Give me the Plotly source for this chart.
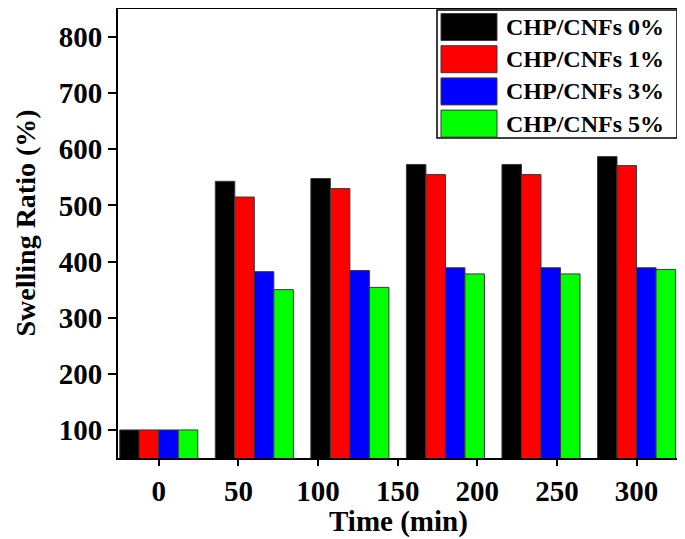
import plotly.graph_objects as go

# ---- data ----
time_min = [0, 60, 120, 180, 240, 300]
series_names = ["CHP/CNFs 0%", "CHP/CNFs 1%", "CHP/CNFs 3%", "CHP/CNFs 5%"]
cnf_0 = [100, 543, 548, 573, 573, 587]
cnf_1 = [100, 515, 530, 555, 555, 571]
cnf_3 = [100, 382, 384, 389, 389, 389]
cnf_5 = [100, 350, 354, 378, 378, 386]
colors = ["#000000", "#FF0000", "#0000FF", "#00FF00"]
x_ticks = [0, 50, 100, 150, 200, 250, 300]
y_ticks = [100, 200, 300, 400, 500, 600, 700, 800]

OFF = 8  # page body margin offset
W, H = 685 - OFF, 539 - OFF
# plot area in screen pixels: x 118..677, y 9..458
ML = 118 - OFF
MR = 685 - 677
MT = 9 - OFF
MB = 539 - 458
PW, PH = W - ML - MR, H - MT - MB
FONT = "Liberation Serif, Times New Roman, serif"

def px_x(px):
    return (px - OFF - ML) / PW

def px_y(py):
    return (H - MB - (py - OFF)) / PH

fig = go.Figure()
for name, vals, col in zip(series_names, [cnf_0, cnf_1, cnf_3, cnf_5], colors):
    fig.add_trace(go.Bar(x=time_min, y=vals, name=name, marker_color=col,
                         marker_line=dict(color="#3a3a3a", width=1),
                         showlegend=False))

# custom legend (large swatches)
shapes = [dict(type="rect", xref="paper", yref="paper",
               x0=px_x(437), x1=px_x(677), y0=px_y(138), y1=px_y(10),
               line=dict(color="black", width=1.5), fillcolor="white", layer="above")]
annotations = []
for i, (name, col) in enumerate(zip(series_names, colors)):
    top = 13.5 + i * 32.2
    bot = top + 27
    shapes.append(dict(type="rect", xref="paper", yref="paper",
                       x0=px_x(441), x1=px_x(497), y0=px_y(bot), y1=px_y(top),
                       line=dict(color="#3a3a3a", width=1), fillcolor=col, layer="above"))
    annotations.append(dict(xref="paper", yref="paper", x=px_x(504), y=px_y((top + bot) / 2),
                            text=f"<b>{name}</b>", showarrow=False, xanchor="left", yanchor="middle",
                            font=dict(family=FONT, size=24, color="black")))

# axis titles
annotations.append(dict(xref="paper", yref="paper", x=px_x(398), y=px_y(521),
                        text="<b>Time (min)</b>", showarrow=False, xanchor="center", yanchor="middle",
                        font=dict(family=FONT, size=29, color="black")))
annotations.append(dict(xref="paper", yref="paper", x=px_x(OFF), y=px_y(223),
                        text="<b>Swelling Ratio (%)</b>", showarrow=False, textangle=-90,
                        xanchor="left", yanchor="middle", borderpad=0,
                        font=dict(family=FONT, size=28, color="black")))

fig.update_layout(
    width=W, height=H,
    margin=dict(l=ML, r=MR, t=MT, b=MB),
    plot_bgcolor="white", paper_bgcolor="white",
    barmode="group", bargap=0.183, bargroupgap=0,
    font=dict(family=FONT, size=29, color="black"),
    shapes=shapes, annotations=annotations,
    xaxis=dict(range=[-25.6, 325.4], tickvals=x_ticks, ticktext=[f"<b>{v}</b>" for v in x_ticks],
               ticks="outside", ticklen=6, tickwidth=2, tickcolor="black",
               showline=True, linecolor="black", linewidth=2, mirror=True,
               showgrid=False, zeroline=False, automargin=False),
    yaxis=dict(range=[50, 850], tickvals=y_ticks, ticktext=[f"<b>{v}</b>" for v in y_ticks],
               ticks="outside", ticklen=8, tickwidth=2, tickcolor="black",
               showline=True, linecolor="black", linewidth=2, mirror=True,
               showgrid=False, zeroline=False, automargin=False),
)

fig.write_html("out.html")
